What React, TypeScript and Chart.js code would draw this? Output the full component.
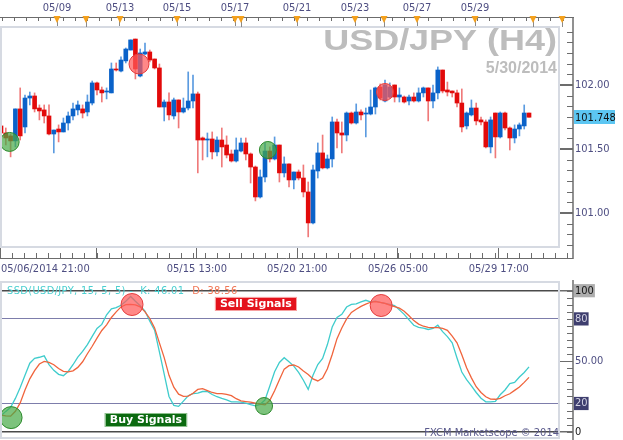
import React, { useEffect, useRef } from 'react';
import { Chart, registerables } from 'chart.js';

Chart.register(...registerables);

// ---------------- USD/JPY H4 candles ----------------
const opens = [101.680,101.625,101.602,101.563,101.813,101.672,101.898,101.914,101.820,101.805,
101.758,101.617,101.656,101.633,101.703,101.758,101.805,101.813,101.789,101.859,
102.016,101.961,101.945,101.938,102.125,102.109,102.188,102.273,102.359,102.070,
102.242,102.258,102.203,102.133,101.828,101.867,101.758,101.883,101.789,101.820,
101.875,101.930,101.586,101.570,101.578,101.477,101.570,101.531,101.461,101.406,
101.484,101.547,101.461,101.359,101.125,101.281,101.484,101.422,101.531,101.313,
101.383,101.258,101.320,101.273,101.164,100.922,101.328,101.469,101.352,101.422,
101.711,101.625,101.609,101.781,101.703,101.789,101.773,101.773,101.828,101.984,
101.875,101.906,102.000,101.906,101.906,101.875,101.906,101.875,101.938,101.977,
101.875,101.938,102.117,101.961,101.953,101.938,101.859,101.680,101.766,101.820,
101.727,101.711,101.516,101.781,101.594,101.781,101.664,101.586,101.656,101.680,
101.781];
const highs = [101.758,101.664,101.617,101.813,101.977,101.922,101.945,101.938,101.844,101.844,
101.844,101.648,101.688,101.742,101.789,101.859,101.875,101.844,101.922,102.031,
102.023,101.984,101.977,102.172,102.172,102.219,102.289,102.352,102.359,102.281,
102.328,102.273,102.203,102.164,101.883,101.938,101.898,101.883,101.898,102.102,
102.078,101.945,101.594,101.625,101.633,101.594,101.664,101.602,101.492,101.586,
101.586,101.586,101.469,101.367,101.336,101.547,101.516,101.594,101.531,101.438,
101.383,101.320,101.336,101.375,101.242,101.375,101.547,101.609,101.453,101.750,
101.734,101.711,101.789,101.789,101.852,101.805,101.820,101.961,101.984,102.008,
102.039,102.016,102.000,101.977,101.914,101.922,101.938,101.977,101.984,101.977,
102.000,102.141,102.117,102.023,101.953,101.961,101.969,101.789,101.883,101.859,
101.750,101.727,101.750,101.781,101.789,101.789,101.672,101.688,101.703,101.844,
101.781];
const lows = [101.555,101.531,101.438,101.516,101.570,101.625,101.844,101.789,101.727,101.703,
101.609,101.469,101.555,101.633,101.648,101.727,101.766,101.742,101.758,101.844,
101.922,101.867,101.891,101.938,102.109,102.102,102.172,102.273,102.047,102.063,
102.234,102.180,102.125,101.828,101.719,101.727,101.734,101.664,101.781,101.805,
101.820,101.313,101.414,101.438,101.422,101.445,101.359,101.430,101.398,101.398,
101.477,101.414,101.234,101.094,101.117,101.242,101.398,101.414,101.242,101.281,
101.203,101.188,101.258,101.125,100.813,100.914,101.273,101.344,101.344,101.359,
101.508,101.469,101.563,101.695,101.695,101.727,101.594,101.766,101.773,101.883,
101.867,101.898,101.867,101.867,101.859,101.844,101.867,101.867,101.906,101.719,
101.820,101.891,101.938,101.914,101.906,101.828,101.633,101.656,101.758,101.688,
101.688,101.508,101.469,101.430,101.586,101.648,101.492,101.547,101.602,101.656,
101.748];
const closes = [101.625,101.586,101.563,101.813,101.602,101.898,101.914,101.813,101.797,101.758,
101.617,101.648,101.633,101.703,101.758,101.813,101.844,101.781,101.867,102.016,
101.961,101.938,101.953,102.125,102.117,102.195,102.281,102.352,102.125,102.250,
102.258,102.195,102.133,101.828,101.867,101.766,101.883,101.789,101.820,101.875,
101.930,101.570,101.570,101.578,101.477,101.570,101.516,101.453,101.406,101.492,
101.547,101.461,101.359,101.125,101.281,101.484,101.422,101.531,101.313,101.383,
101.258,101.320,101.273,101.164,100.922,101.336,101.469,101.352,101.422,101.711,
101.625,101.609,101.781,101.703,101.789,101.766,101.781,101.828,101.977,101.898,
102.000,101.984,101.906,101.922,101.867,101.906,101.875,101.938,101.977,101.875,
101.938,102.117,101.953,101.945,101.938,101.859,101.672,101.781,101.820,101.719,
101.711,101.516,101.727,101.594,101.781,101.664,101.586,101.656,101.688,101.781,
101.748];

// ---------------- Slow stochastic (15,5,5) ----------------
const kValues = [11.3,14.4,17.3,23.6,31.4,40,48.6,52,52.8,53.8,
47.6,43.5,40.7,39.7,42.7,47.5,52.9,56.9,61.8,67.6,
73.2,76.1,82.9,87.2,88,89.7,92.5,95.9,92.5,89.3,
85.6,78.4,72,56.6,40.8,25,18.7,18,21.7,25.5,
27,27.3,28.5,28.6,26.4,24.8,23.6,22.5,21.1,21.2,
21,20.2,19.2,18.3,19.4,22.5,32.4,42.5,49.1,52.5,
49.6,46.5,42,36.5,30,40,47.6,52,61.8,74.2,
81,83.3,88.4,90.3,90.6,92,93.2,92.1,92.6,91.7,
91,90.3,89.5,86.4,83.2,79.3,75.5,74,73.5,72.5,
73.2,75.5,71,67.4,63,52.3,42.3,37,32.5,27.8,
23.7,21.2,21.2,21.5,26.2,29.6,34.1,34.9,38.8,42,
46.01];
const dValues = [11.7,11.2,11,14.5,20.4,29.6,37.5,43.3,48,49.8,
49.2,47.5,44.8,42.8,42.5,43.2,45.6,49.6,55.3,60.6,
66.4,71.8,75.8,81,85,88.5,90.1,90.3,90,88.5,
85,80.3,73.6,63,52.5,40,31.6,26.6,25,25.2,
27.3,30,30.6,29.2,27.8,27,27,26.5,25.6,23.4,
21.9,21.4,20.9,20.2,19.6,19,22.3,29,36.9,44.4,
46.8,47.3,45.9,43.1,40.6,37.4,36,38,44.6,54.8,
66,73.5,80,84.6,86.8,88.9,90.5,91.8,92.2,91.7,
91,89.8,88.7,87.6,85.4,82.2,78.8,76.3,74.8,74,
73.8,73.8,73.3,71.9,67.8,63,54.6,45.4,38.2,31.9,
27.8,24.8,23.1,23,23.7,25.5,26.9,29.3,31.7,35,
38.56];

// ---------------- ticks / labels ----------------
const priceTicks = [101.0, 101.5, 102.0];
const oscTicks = [0, 20, 50, 80, 100];
const oscTickLabels = ['0', '20', '50.00', '80', '100'];
const topTickIdx = [11.67, 24.79, 36.67, 48.75, 61.67, 73.75, 86.67, 98.75];
const topTickLabels = ['05/09', '05/13', '05/15', '05/17', '05/21', '05/23', '05/27', '05/29'];
const extraMarkerIdx = [17.71, 50, 79.79, 110.83, 116.9];
const bottomTickIdx = [-0.2, 19.9, 40.8, 61.7, 82.7, 103.7];
const bottomTickLabels = ['05/06/2014 21:00', '', '05/15 13:00', '05/20 21:00', '05/26 05:00', '05/29 17:00'];

// ---------------- signal markers ----------------
const priceSellSignals = [{ x: 28.75, y: 102.164 }, { x: 80, y: 101.945 }];
const priceBuySignals = [{ x: 1.8, y: 101.555 }, { x: 55.6, y: 101.492 }];
const oscSellSignals = [{ x: 27.3, y: 90.2 }, { x: 79.2, y: 89.5 }];
const oscBuySignals = [{ x: 2.1, y: 10 }, { x: 54.8, y: 18.2 }];
const sellLabelAt = { x: 53.1, y: 90.6 };
const buyLabelAt = { x: 30.2, y: 8.3 };

const X_MIN = -0.208;
const X_MAX = 116.04;
const PRICE_MIN = 100.734;
const PRICE_MAX = 102.453;
const OSC_MIN = -4.47;
const OSC_MAX = 106.17;

const FONT_FAMILY = "'DejaVu Sans Condensed', 'Noto Sans', 'DejaVu Sans', sans-serif";
const LABEL_COLOR = '#4e4e82';
const AXIS_DARK = '#6c6c6c';
const PANEL_BORDER = '#d6dae2';
const BLUE = '#0a62c9';
const RED = '#e20a0a';
const BLUE_WICK = '#5b9be0';
const RED_WICK = '#ef7a7a';

const idx = opens.map((_, i) => i);
const up = opens.map((o, i) => closes[i] >= o);

function drawTriangle(ctx: CanvasRenderingContext2D, px: number, y: number) {
  ctx.beginPath();
  ctx.moveTo(px - 3.5, y - 1);
  ctx.lineTo(px + 3.5, y - 1);
  ctx.lineTo(px, y + 6);
  ctx.closePath();
  ctx.fill();
}

const candleDecor = {
  id: 'candleDecor',
  beforeDatasetsDraw(chart: any) {
    const { ctx, chartArea: a } = chart;
    ctx.save();
    ctx.fillStyle = '#bdbdbd';
    ctx.textAlign = 'right';
    ctx.textBaseline = 'alphabetic';
    ctx.font = "bold 29px 'Liberation Sans', Arial, sans-serif";
    ctx.translate(a.right - 1, 50);
    ctx.scale(1.24, 1);
    ctx.fillText('USD/JPY (H4)', 0, 0);
    ctx.restore();
    ctx.save();
    ctx.fillStyle = '#bdbdbd';
    ctx.textAlign = 'right';
    ctx.font = "bold 16px 'Liberation Sans', Arial, sans-serif";
    ctx.fillText('5/30/2014', a.right - 1, 73);
    ctx.restore();
  },
  afterDraw(chart: any) {
    const { ctx, chartArea: a, scales } = chart;
    const xs = scales.x;
    const ys = scales.y;
    const AX = a.right + 15;
    const RY = a.top - 10;
    const BY = a.bottom + 11;
    ctx.save();
    // panel border
    ctx.strokeStyle = PANEL_BORDER;
    ctx.lineWidth = 2;
    ctx.strokeRect(a.left + 1, a.top, a.right - a.left, a.bottom - a.top);

    ctx.strokeStyle = AXIS_DARK;
    ctx.lineWidth = 1;
    // top ruler
    ctx.beginPath();
    ctx.moveTo(0, RY + 0.5);
    ctx.lineTo(AX + 1, RY + 0.5);
    ctx.stroke();
    for (let t = 0.15; xs.getPixelForValue(t) <= AX; t += 2.54) {
      const px = Math.round(xs.getPixelForValue(t)) + 0.5;
      ctx.beginPath();
      ctx.moveTo(px, RY);
      ctx.lineTo(px, RY + 4);
      ctx.stroke();
    }
    // extra markers vertical lines
    ctx.strokeStyle = '#8a8a8a';
    for (const t of extraMarkerIdx) {
      const px = Math.round(xs.getPixelForValue(t)) + 0.5;
      if (px > AX) continue;
      ctx.beginPath();
      ctx.moveTo(px, RY);
      ctx.lineTo(px, a.top);
      ctx.stroke();
    }
    ctx.fillStyle = '#f5a11c';
    for (const t of [...topTickIdx, ...extraMarkerIdx]) {
      const px = xs.getPixelForValue(t);
      if (px > AX) continue;
      drawTriangle(ctx, px, RY);
    }

    // right price axis
    ctx.strokeStyle = AXIS_DARK;
    ctx.lineWidth = 1.5;
    ctx.beginPath();
    ctx.moveTo(AX, RY);
    ctx.lineTo(AX, BY + 1);
    ctx.stroke();
    ctx.lineWidth = 1;
    for (let k = 0; k < 40; k++) {
      const v = 100.75 + k / 12;
      if (v > PRICE_MAX) break;
      const py = Math.round(ys.getPixelForValue(v)) + 0.5;
      ctx.beginPath();
      ctx.moveTo(AX - 6, py);
      ctx.lineTo(AX, py);
      ctx.stroke();
    }

    // bottom time ruler
    ctx.beginPath();
    ctx.moveTo(0, BY + 0.5);
    ctx.lineTo(AX, BY + 0.5);
    ctx.stroke();
    const minorStep = (bottomTickIdx[1] - bottomTickIdx[0]) / 8;
    for (let t = bottomTickIdx[0]; xs.getPixelForValue(t) <= AX; t += minorStep) {
      const px = Math.round(xs.getPixelForValue(t)) + 0.5;
      ctx.beginPath();
      ctx.moveTo(px, BY - 5);
      ctx.lineTo(px, BY);
      ctx.stroke();
    }
    // first (clipped) date label, left aligned
    ctx.fillStyle = LABEL_COLOR;
    ctx.font = `11px ${FONT_FAMILY}`;
    ctx.textAlign = 'left';
    ctx.textBaseline = 'middle';
    ctx.fillText(bottomTickLabels[0], 1, BY + 5 + 6.6);

    // last price box
    const last = closes[closes.length - 1];
    const py = ys.getPixelForValue(last);
    ctx.fillStyle = '#5cc6f2';
    ctx.fillRect(AX + 1, Math.round(py) - 7, 41, 14);
    ctx.fillStyle = '#111';
    ctx.fillText(last.toFixed(3), AX + 2, py + 0.5);
    ctx.restore();
  },
};

const oscDecor = {
  id: 'oscDecor',
  afterDraw(chart: any) {
    const { ctx, chartArea: a, scales } = chart;
    const xs = scales.x;
    const ys = scales.y;
    const AX = a.right + 15;
    ctx.save();
    ctx.strokeStyle = PANEL_BORDER;
    ctx.lineWidth = 2;
    ctx.strokeRect(a.left + 1, a.top, a.right - a.left, a.bottom - a.top);

    ctx.strokeStyle = AXIS_DARK;
    ctx.lineWidth = 1.5;
    ctx.beginPath();
    ctx.moveTo(AX, 0);
    ctx.lineTo(AX, chart.height);
    ctx.stroke();
    ctx.lineWidth = 1;
    for (let v = 0; v <= 100; v += 5) {
      const py = Math.round(ys.getPixelForValue(v)) + 0.5;
      ctx.beginPath();
      ctx.moveTo(AX - 6, py);
      ctx.lineTo(AX, py);
      ctx.stroke();
    }

    // legend
    ctx.font = `11px ${FONT_FAMILY}`;
    ctx.textAlign = 'left';
    ctx.textBaseline = 'middle';
    (ctx as any).letterSpacing = '0.35px';
    const ly = ys.getPixelForValue(100) + 0.5;
    const kText = `SSD(USD/JPY, 15, 5, 5) -  K: ${kValues[kValues.length - 1].toFixed(2)}`;
    ctx.fillStyle = '#4ccfd0';
    ctx.fillText(kText, 7, ly);
    const w = ctx.measureText(kText).width;
    ctx.fillStyle = '#f07858';
    ctx.fillText(`D: ${dValues[dValues.length - 1].toFixed(2)}`, 7 + w + 8, ly);
    (ctx as any).letterSpacing = '0px';

    // signal labels
    const box = (text: string, at: { x: number; y: number }, bg: string, edge: string) => {
      ctx.font = `bold 11px 'DejaVu Sans', Verdana, sans-serif`;
      const tw = ctx.measureText(text).width;
      const cx = xs.getPixelForValue(at.x);
      const cy = ys.getPixelForValue(at.y);
      const bw = tw + 10;
      const bh = 14;
      ctx.fillStyle = bg;
      ctx.fillRect(cx - bw / 2, cy - bh / 2, bw, bh);
      ctx.strokeStyle = edge;
      ctx.lineWidth = 1;
      ctx.strokeRect(Math.round(cx - bw / 2) + 0.5, Math.round(cy - bh / 2) + 0.5, Math.round(bw) - 1, bh - 1);
      ctx.fillStyle = '#ffffff';
      ctx.textAlign = 'center';
      ctx.textBaseline = 'middle';
      ctx.fillText(text, cx, cy + 0.5);
    };
    box('Sell Signals', sellLabelAt, '#e4121c', '#f7a0a0');
    box('Buy Signals', buyLabelAt, '#0b6a10', '#8cc08c');

    // copyright
    ctx.font = `11px ${FONT_FAMILY}`;
    ctx.fillStyle = '#5a5a8c';
    ctx.textAlign = 'right';
    ctx.textBaseline = 'alphabetic';
    ctx.fillText('FXCM Marketscope \u00A9 2014', a.right + 1, a.bottom - 2);
    ctx.restore();
  },
};

const labelFont = { family: FONT_FAMILY, size: 11 };

export default function App() {
  const r1 = useRef<HTMLCanvasElement>(null);
  const r2 = useRef<HTMLCanvasElement>(null);

  useEffect(() => {
    const c1 = new Chart(r1.current as HTMLCanvasElement, {
      type: 'bar',
      data: {
        datasets: [
          {
            type: 'scatter',
            label: 'Sell',
            data: priceSellSignals,
            pointRadius: [10, 8.5],
            backgroundColor: 'rgba(255,90,90,0.72)',
            borderColor: '#e43c3c',
            borderWidth: 1,
            order: 0,
          } as any,
          {
            type: 'scatter',
            label: 'Buy',
            data: priceBuySignals,
            pointRadius: [9.5, 8.5],
            backgroundColor: 'rgba(70,170,70,0.7)',
            borderColor: '#2d8a2d',
            borderWidth: 1,
            order: 0,
          } as any,
          {
            label: 'Body',
            data: idx.map((i) => ({ x: i, y: [opens[i], closes[i]] })),
            backgroundColor: up.map((u) => (u ? BLUE : RED)),
            barThickness: 4,
            minBarLength: 1,
            grouped: false,
            order: 1,
          } as any,
          {
            label: 'Wick',
            data: idx.map((i) => ({ x: i, y: [lows[i], highs[i]] })),
            backgroundColor: up.map((u) => (u ? BLUE_WICK : RED_WICK)),
            barThickness: 1,
            grouped: false,
            order: 2,
          } as any,
        ],
      },
      options: {
        animation: false,
        responsive: false,
        devicePixelRatio: 1,
        events: [],
        layout: { padding: 0, autoPadding: false },
        plugins: { legend: { display: false }, tooltip: { enabled: false } },
        scales: {
          x: {
            type: 'linear',
            position: 'bottom',
            min: X_MIN,
            max: X_MAX,
            offset: false,
            afterBuildTicks: (s: any) => {
              s.ticks = bottomTickIdx.map((v) => ({ value: v }));
            },
            afterFit: (s: any) => {
              s.height = 33;
              s.paddingLeft = 0;
              s.paddingRight = 0;
            },
            grid: { drawOnChartArea: false, offset: false, tickLength: 11, color: AXIS_DARK, lineWidth: 1 },
            border: { display: false },
            ticks: {
              autoSkip: false,
              maxRotation: 0,
              minRotation: 0,
              padding: 5,
              font: labelFont,
              color: LABEL_COLOR,
              callback: (_v: any, i: number) => (i < 2 ? '' : bottomTickLabels[i]),
            },
          },
          x2: {
            type: 'linear',
            position: 'top',
            axis: 'x',
            min: X_MIN,
            max: X_MAX,
            offset: false,
            afterBuildTicks: (s: any) => {
              s.ticks = topTickIdx.map((v) => ({ value: v }));
            },
            afterFit: (s: any) => {
              s.height = 27;
              s.paddingLeft = 0;
              s.paddingRight = 0;
            },
            grid: { drawOnChartArea: false, offset: false, tickLength: 10, color: '#8a8a8a', lineWidth: 1 },
            border: { display: false },
            ticks: {
              autoSkip: false,
              maxRotation: 0,
              minRotation: 0,
              padding: 2,
              font: labelFont,
              color: LABEL_COLOR,
              callback: (_v: any, i: number) => topTickLabels[i],
            },
          },
          y: {
            type: 'linear',
            position: 'right',
            min: PRICE_MIN,
            max: PRICE_MAX,
            afterBuildTicks: (s: any) => {
              s.ticks = priceTicks.map((v) => ({ value: v }));
            },
            afterFit: (s: any) => {
              s.width = 65;
              s.paddingTop = 0;
              s.paddingBottom = 0;
            },
            grid: { drawOnChartArea: false, tickLength: 15, color: AXIS_DARK, lineWidth: 2 },
            border: { display: false },
            ticks: {
              padding: 2,
              font: labelFont,
              color: LABEL_COLOR,
              callback: (v: any) => Number(v).toFixed(2),
            },
          },
        } as any,
      },
      plugins: [candleDecor],
    } as any);

    const isMajor = (v: number) => v === 0 || v === 100;
    const c2 = new Chart(r2.current as HTMLCanvasElement, {
      type: 'line',
      data: {
        datasets: [
          {
            type: 'scatter',
            label: 'Sell',
            data: oscSellSignals,
            pointRadius: [11, 11],
            backgroundColor: 'rgba(255,90,90,0.72)',
            borderColor: '#e43c3c',
            borderWidth: 1,
            order: 0,
          } as any,
          {
            type: 'scatter',
            label: 'Buy',
            data: oscBuySignals,
            pointRadius: [11, 8.5],
            backgroundColor: 'rgba(70,170,70,0.7)',
            borderColor: '#2d8a2d',
            borderWidth: 1,
            order: 0,
          } as any,
          {
            label: 'D',
            data: idx.map((i) => ({ x: i, y: dValues[i] })),
            borderColor: '#f0643c',
            borderWidth: 1.3,
            pointRadius: 0,
            tension: 0,
            fill: false,
            order: 1,
          },
          {
            label: 'K',
            data: idx.map((i) => ({ x: i, y: kValues[i] })),
            borderColor: '#3fcccc',
            borderWidth: 1.3,
            pointRadius: 0,
            tension: 0,
            fill: false,
            order: 2,
          },
        ],
      },
      options: {
        animation: false,
        responsive: false,
        devicePixelRatio: 1,
        events: [],
        layout: { padding: { top: 2, bottom: 2, left: 0, right: 0 }, autoPadding: false },
        plugins: { legend: { display: false }, tooltip: { enabled: false } },
        scales: {
          x: { type: 'linear', display: false, min: X_MIN, max: X_MAX, offset: false },
          y: {
            type: 'linear',
            position: 'right',
            min: OSC_MIN,
            max: OSC_MAX,
            afterBuildTicks: (s: any) => {
              s.ticks = oscTicks.map((v) => ({ value: v }));
            },
            afterFit: (s: any) => {
              s.width = 65;
              s.paddingTop = 0;
              s.paddingBottom = 0;
            },
            grid: {
              drawOnChartArea: true,
              tickLength: 15,
              lineWidth: (c: any) => (isMajor(c.tick?.value) ? 1.5 : 1),
              color: (c: any) => {
                const v = c.tick?.value;
                if (isMajor(v)) return '#4a4a4a';
                if (v === 20 || v === 80) return '#7d7dab';
                return 'rgba(0,0,0,0)';
              },
              tickColor: (c: any) => {
                const v = c.tick?.value;
                return v === 0 || v === 50 || v === 100 ? AXIS_DARK : 'rgba(0,0,0,0)';
              },
            },
            border: { display: false },
            ticks: {
              padding: 2,
              font: labelFont,
              callback: (_v: any, i: number) => oscTickLabels[i],
              color: (c: any) => {
                const v = c.tick?.value;
                if (v === 100 || v === 0) return '#151515';
                if (v === 20 || v === 80) return '#d4d4e4';
                return LABEL_COLOR;
              },
              showLabelBackdrop: (c: any) => c.tick?.value !== 50,
              backdropColor: (c: any) => {
                const v = c.tick?.value;
                if (v === 100) return '#aeaeae';
                if (v === 20 || v === 80) return '#3e3e6e';
                return '#ffffff';
              },
              backdropPadding: { x: 1, y: 0 },
            },
          },
        } as any,
      },
      plugins: [oscDecor],
    } as any);

    return () => {
      c1.destroy();
      c2.destroy();
    };
  }, []);

  return (
    <div style={{ position: 'absolute', left: 0, top: 0, width: 623, height: 440, background: '#ffffff' }}>
      <canvas
        ref={r1}
        width={623}
        height={280}
        style={{ position: 'absolute', left: 0, top: 0, width: 623, height: 280 }}
      />
      <canvas
        ref={r2}
        width={623}
        height={160}
        style={{ position: 'absolute', left: 0, top: 280, width: 623, height: 160 }}
      />
    </div>
  );
}
